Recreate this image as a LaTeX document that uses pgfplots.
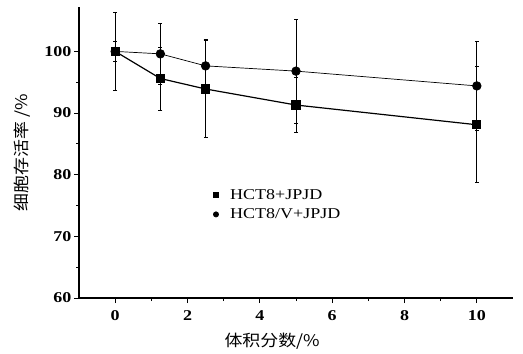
\documentclass[border=0pt]{standalone}
\usepackage{fontspec}
\usepackage{pgfplots}
\pgfplotsset{compat=1.18}
\setmainfont{Liberation Serif}[FakeStretch=1.2]
\newfontfamily\cjk{Noto Sans CJK SC}[FakeStretch=1.12]
\begin{document}
\begin{tikzpicture}
\begin{axis}[
  scale only axis,
  width=434pt, height=291pt,
  xmin=-1, xmax=11, ymin=60, ymax=107.2,
  axis x line*=bottom, axis y line*=left,
  axis line style={line width=1.4pt, -},
  tick align=outside,
  major tick length=5pt, minor tick length=3pt,
  tick style={line width=1pt, black},
  xtick={0,2,4,6,8,10}, minor x tick num=1,
  ytick={60,70,80,90,100}, minor y tick num=1,
  /pgf/number format/assume math mode=true,
  ticklabel style={font=\fontsize{15}{15}\selectfont\bfseries},
  xticklabel style={yshift=-4pt},
  yticklabel style={xshift=1pt},
  xlabel={\cjk 体积分数/\%},
  ylabel={\cjk 细胞存活率 /\%},
  label style={font=\fontsize{16}{16}\selectfont},
  xlabel style={at={(axis description cs:0.445,0)}, anchor=north, yshift=-32pt},
  ylabel style={at={(axis description cs:0,0.5)}, anchor=south, yshift=45pt},
  legend style={draw=none, fill=none, at={(axis description cs:0.305,0.385)}, anchor=north west,
    font=\fontsize{15}{15}\selectfont, row sep=4pt, inner sep=1pt},
  legend cell align=left,
  legend image code/.code={\path[draw=none] (0cm,0cm) -- (0.55cm,0cm);\draw[#1, mark size=2.6pt] plot coordinates {(0.12cm,0cm)};},
  clip=false,
]
\addplot[black, line width=1.2pt, mark=square*, mark size=4pt, mark options={solid, fill=black},
  error bars/.cd, y dir=both, y explicit, error bar style={line width=1pt, black},
  error mark options={rotate=90, mark size=2pt, line width=0.8pt}]
  table[x=x, y=y, y error=e] {
x y e
0 100 6.3
1.25 95.6 5.1
2.5 93.9 7.9
5 91.3 4.5
10 88.1 9.4
};
\addlegendentry{HCT8+JPJD}
\addplot[black, line width=0.7pt, mark=*, mark size=4.3pt, mark options={solid, fill=black},
  error bars/.cd, y dir=both, y explicit, error bar style={line width=1pt, black},
  error mark options={rotate=90, mark size=2pt, line width=0.8pt}]
  table[x=x, y=y, y error=e] {
x y e
0 100 1.7
1.25 99.6 5.0
2.5 97.65 4.3
5 96.8 8.4
10 94.4 7.2
};
\addlegendentry{HCT8/V+JPJD}
\path (rel axis cs:1,1) ++(10pt,7pt);
\path (rel axis cs:0,0) ++(-79pt,-55pt);
\end{axis}
\end{tikzpicture}
\end{document}
